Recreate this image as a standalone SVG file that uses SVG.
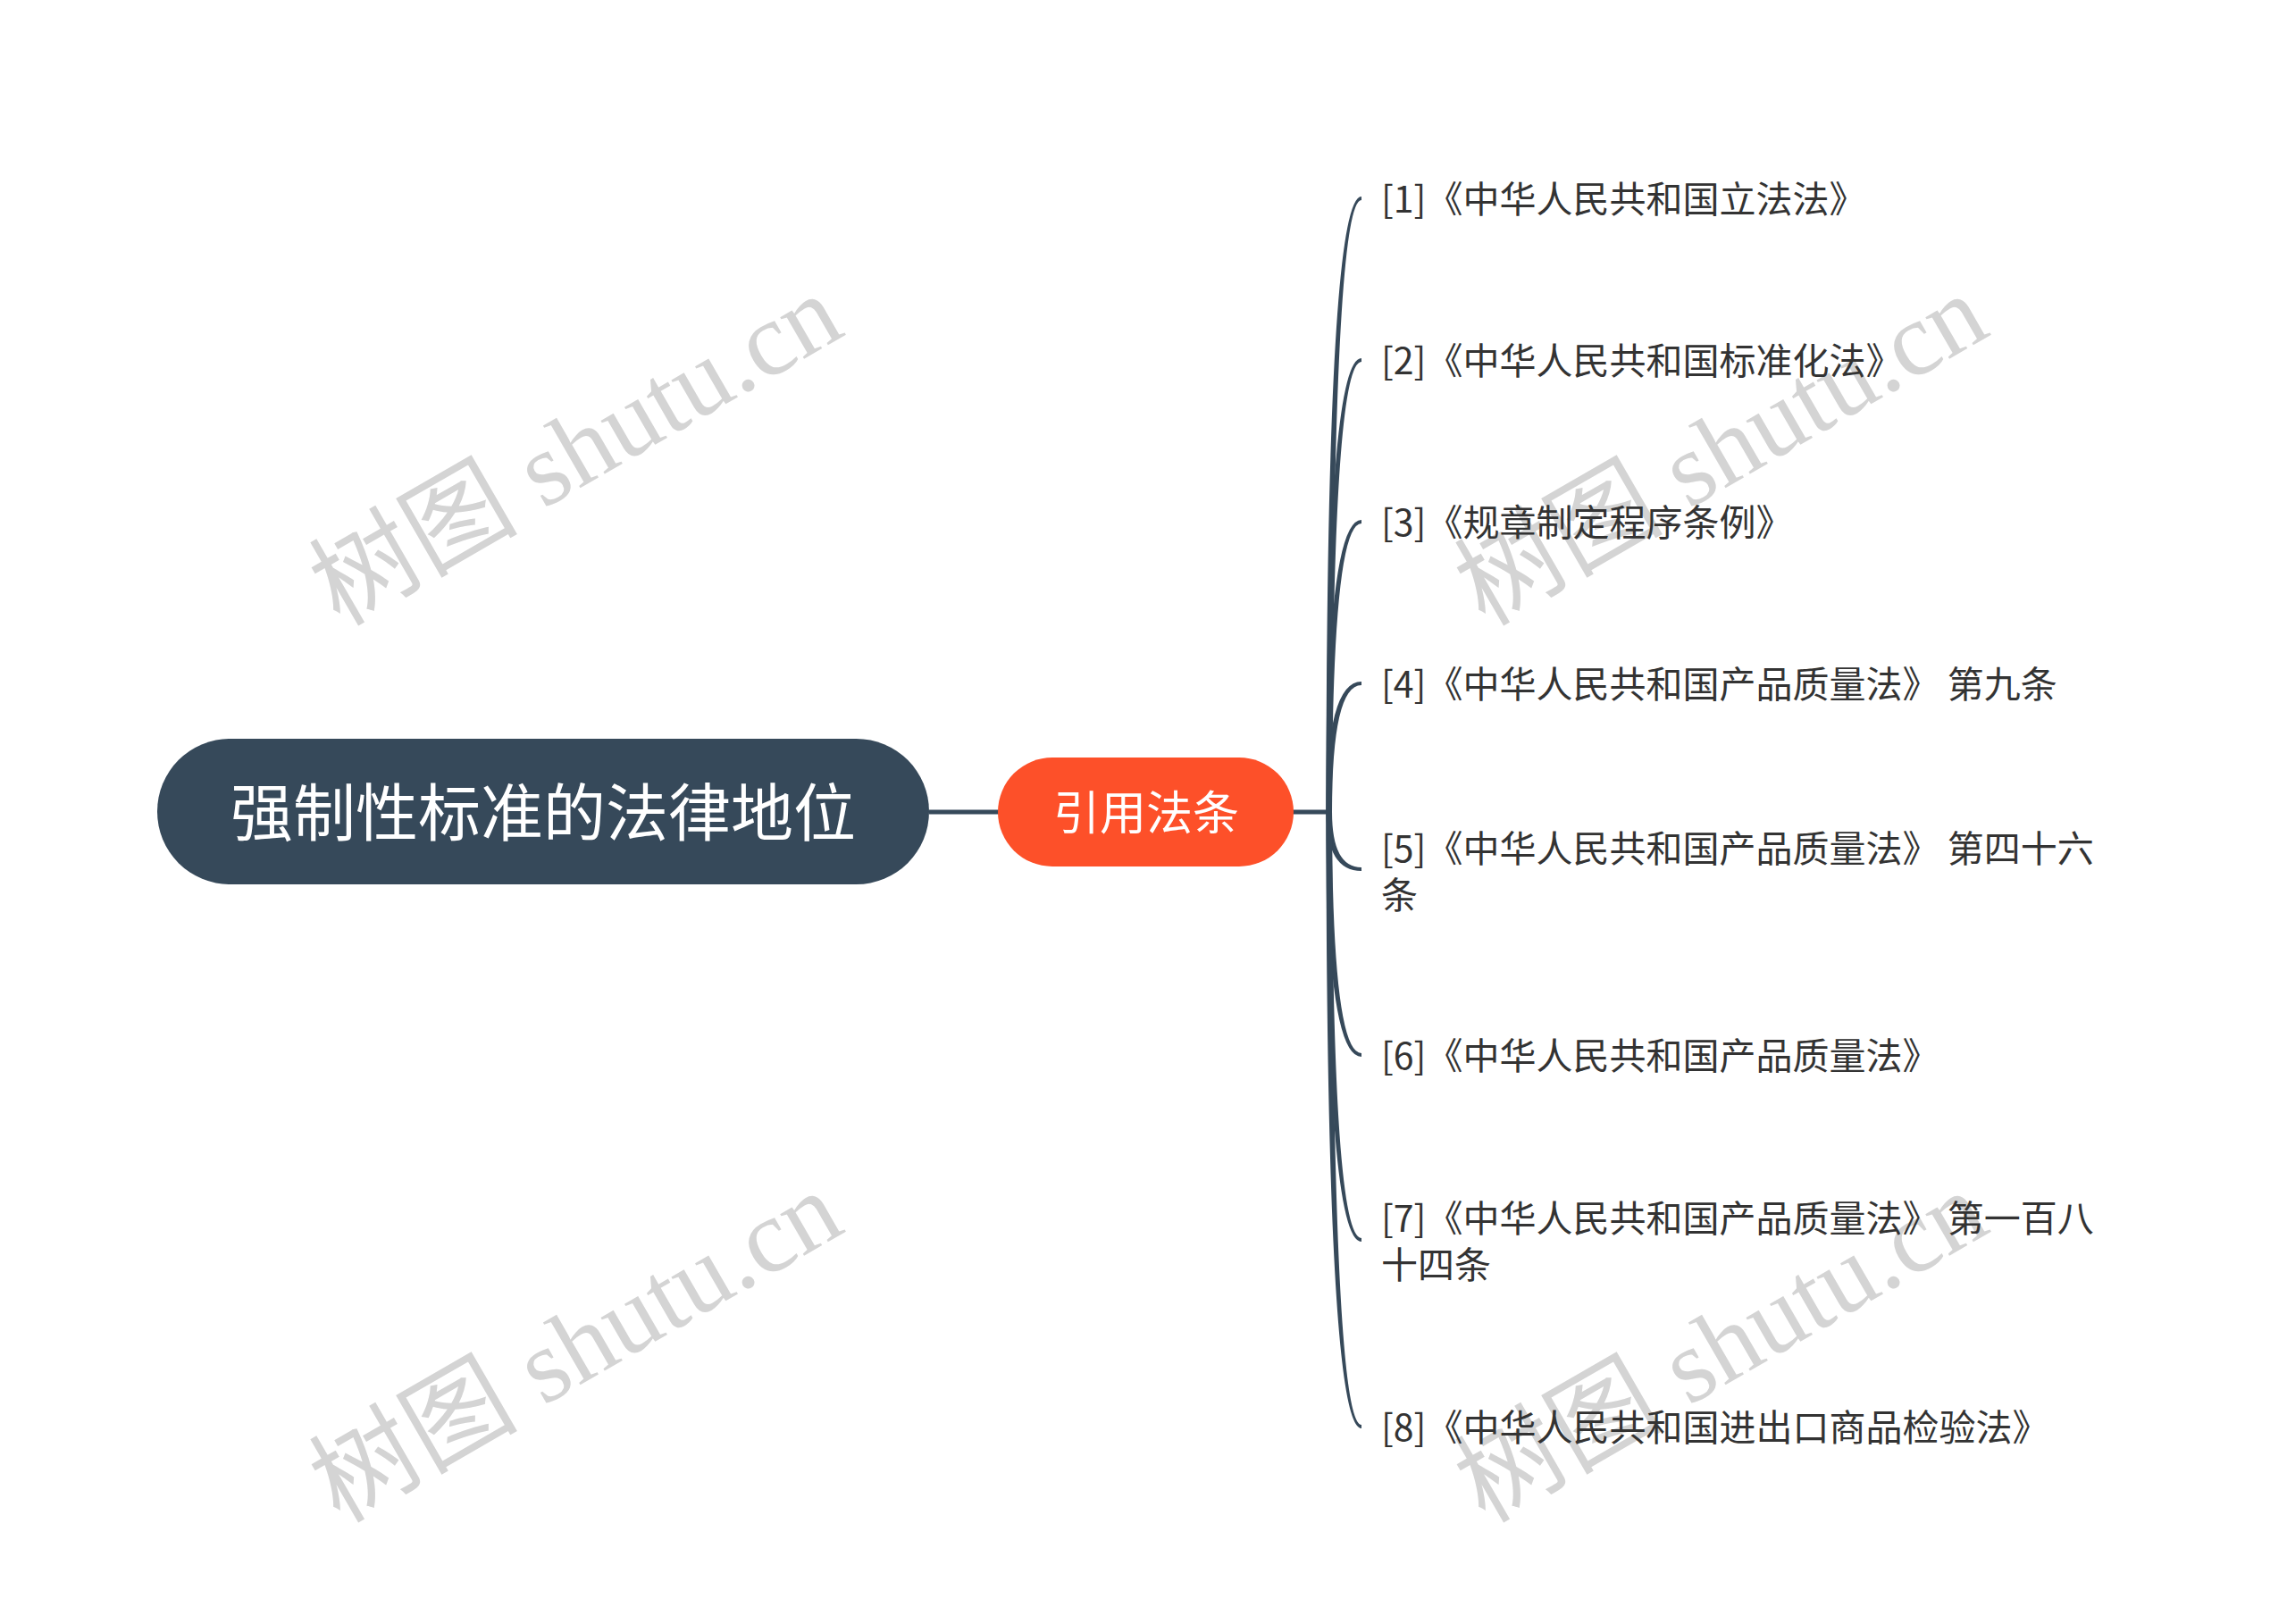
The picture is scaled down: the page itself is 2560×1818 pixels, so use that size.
<svg xmlns="http://www.w3.org/2000/svg" width="2560" height="1818" viewBox="0 0 2560 1818">
<style>
.wm{font-family:"Liberation Serif","Noto Sans CJK SC",serif;font-size:117px;fill:#d4d4d4;}
.root-t{font-family:"Noto Sans CJK SC","Noto Sans",sans-serif;font-size:70px;fill:#ffffff;text-anchor:middle;}
.main-t{font-family:"Noto Sans CJK SC","Noto Sans",sans-serif;font-size:52px;fill:#ffffff;text-anchor:middle;}
.leaf-t{font-family:"Noto Sans CJK SC","Noto Sans",sans-serif;font-size:41px;fill:#333333;}
.conn{fill:#36495a;}
.line{stroke:#36495a;stroke-width:5;fill:none;}
</style>
<rect width="2560" height="1818" fill="#ffffff"/>
<g id="watermarks">
<text class="wm" x="380" y="702" transform="rotate(-30 380 702)">树图 shutu.cn</text>
<text class="wm" x="1662" y="702" transform="rotate(-30 1662 702)">树图 shutu.cn</text>
<text class="wm" x="380" y="1706" transform="rotate(-30 380 1706)">树图 shutu.cn</text>
<text class="wm" x="1662" y="1706" transform="rotate(-30 1662 1706)">树图 shutu.cn</text>
</g>
<g id="connectors">
<line class="line" x1="1040" y1="909" x2="1118" y2="909"/>
<line class="line" x1="1447" y1="909" x2="1489" y2="909"/>
<path class="conn" d="M1484.5,909 Q1484.5,220 1524,220 L1524,224 Q1491,224 1491,909 Z"/>
<path class="conn" d="M1484.5,909 Q1484.5,401 1524,401 L1524,405 Q1491,405 1491,909 Z"/>
<path class="conn" d="M1484.5,909 Q1484.5,582 1524,582 L1524,586 Q1491,586 1491,909 Z"/>
<path class="conn" d="M1484.5,909 Q1484.5,763 1524,763 L1524,767 Q1491,767 1491,909 Z"/>
<path class="conn" d="M1484.5,909 Q1484.5,975 1524,975 L1524,971 Q1491,971 1491,909 Z"/>
<path class="conn" d="M1484.5,909 Q1484.5,1183 1524,1183 L1524,1179 Q1491,1179 1491,909 Z"/>
<path class="conn" d="M1484.5,909 Q1484.5,1390 1524,1390 L1524,1386 Q1491,1386 1491,909 Z"/>
<path class="conn" d="M1484.5,909 Q1484.5,1599 1524,1599 L1524,1595 Q1491,1595 1491,909 Z"/>
</g>
<g id="root">
<rect x="176" y="827" width="864" height="163" rx="81.5" ry="81.5" fill="#36495a"/>
<text class="root-t" x="608" y="936">强制性标准的法律地位</text>
</g>
<g id="main">
<rect x="1117" y="848" width="331" height="122" rx="61" ry="61" fill="#fd5029"/>
<text class="main-t" x="1283" y="929">引用法条</text>
</g>
<g id="leaf1"><text class="leaf-t" x="1546" y="238">[1]《中华人民共和国立法法》</text></g>
<g id="leaf2"><text class="leaf-t" x="1546" y="419">[2]《中华人民共和国标准化法》</text></g>
<g id="leaf3"><text class="leaf-t" x="1546" y="600">[3]《规章制定程序条例》</text></g>
<g id="leaf4"><text class="leaf-t" x="1546" y="781">[4]《中华人民共和国产品质量法》 第九条</text></g>
<g id="leaf5"><text class="leaf-t" x="1546" y="965">[5]《中华人民共和国产品质量法》 第四十六</text><text class="leaf-t" x="1546" y="1017">条</text></g>
<g id="leaf6"><text class="leaf-t" x="1546" y="1197">[6]《中华人民共和国产品质量法》</text></g>
<g id="leaf7"><text class="leaf-t" x="1546" y="1379">[7]《中华人民共和国产品质量法》 第一百八</text><text class="leaf-t" x="1546" y="1431">十四条</text></g>
<g id="leaf8"><text class="leaf-t" x="1546" y="1613">[8]《中华人民共和国进出口商品检验法》</text></g>
</svg>
